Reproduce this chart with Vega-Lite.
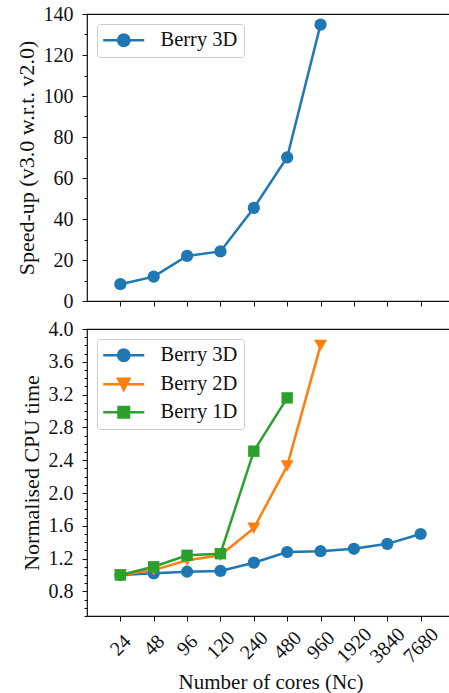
{
  "$schema": "https://vega.github.io/schema/vega-lite/v6.json",
  "padding": {"left": 14, "top": 3, "right": 0, "bottom": 0},
  "background": "white",
  "resolve": {"scale": {"fill": "independent", "stroke": "independent", "shape": "independent"}, "legend": {"fill": "independent", "stroke": "independent", "shape": "independent"}},
  "config": {
    "font": "Liberation Serif",
    "view": {"stroke": "#111111", "strokeWidth": 1.2},
    "axis": {
      "labelFont": "Liberation Serif", "labelFontSize": 20, "labelColor": "#111111",
      "titleFont": "Liberation Serif", "titleFontSize": 22, "titleFontWeight": "normal", "titleColor": "#111111",
      "domainColor": "#111111", "tickColor": "#111111", "tickWidth": 1, "grid": false, "labelPadding": 9
    },
    "legend": {
      "orient": "top-left", "offset": 10, "padding": 6, "title": null,
      "strokeColor": "#cccccc", "fillColor": "rgba(255,255,255,0.8)", "cornerRadius": 3,
      "labelFont": "Liberation Serif", "labelFontSize": 20.5, "labelColor": "#111111",
      "symbolSize": 196, "symbolStrokeWidth": 2.5, "symbolOpacity": 1, "labelOffset": 37, "rowPadding": 7
    },
    "concat": {"spacing": 6}
  },
  "datasets": {
    "speedup": [
      {"series": "Berry 3D", "cores": 24, "speedup": 8.2},
      {"series": "Berry 3D", "cores": 48, "speedup": 11.9},
      {"series": "Berry 3D", "cores": 96, "speedup": 22.0},
      {"series": "Berry 3D", "cores": 120, "speedup": 24.2},
      {"series": "Berry 3D", "cores": 240, "speedup": 45.4},
      {"series": "Berry 3D", "cores": 480, "speedup": 70.1},
      {"series": "Berry 3D", "cores": 960, "speedup": 134.8}
    ],
    "cpu": [
      {"series": "Berry 3D", "cores": 24, "cpu": 1.0},
      {"series": "Berry 3D", "cores": 48, "cpu": 1.02},
      {"series": "Berry 3D", "cores": 96, "cpu": 1.04},
      {"series": "Berry 3D", "cores": 120, "cpu": 1.05},
      {"series": "Berry 3D", "cores": 240, "cpu": 1.15},
      {"series": "Berry 3D", "cores": 480, "cpu": 1.28},
      {"series": "Berry 3D", "cores": 960, "cpu": 1.29},
      {"series": "Berry 3D", "cores": 1920, "cpu": 1.32},
      {"series": "Berry 3D", "cores": 3840, "cpu": 1.38},
      {"series": "Berry 3D", "cores": 7680, "cpu": 1.5},
      {"series": "Berry 2D", "cores": 24, "cpu": 1.0},
      {"series": "Berry 2D", "cores": 48, "cpu": 1.06},
      {"series": "Berry 2D", "cores": 96, "cpu": 1.18},
      {"series": "Berry 2D", "cores": 120, "cpu": 1.24},
      {"series": "Berry 2D", "cores": 240, "cpu": 1.57},
      {"series": "Berry 2D", "cores": 480, "cpu": 2.33},
      {"series": "Berry 2D", "cores": 960, "cpu": 3.8},
      {"series": "Berry 1D", "cores": 24, "cpu": 1.0},
      {"series": "Berry 1D", "cores": 48, "cpu": 1.1},
      {"series": "Berry 1D", "cores": 96, "cpu": 1.24},
      {"series": "Berry 1D", "cores": 120, "cpu": 1.26},
      {"series": "Berry 1D", "cores": 240, "cpu": 2.51},
      {"series": "Berry 1D", "cores": 480, "cpu": 3.16}
    ]
  },
  "vconcat": [
    {
      "width": 367, "height": 287,
      "data": {"name": "speedup"},
      "encoding": {
        "x": {"field": "cores", "type": "ordinal",
          "scale": {"type": "point", "domain": [24, 48, 96, 120, 240, 480, 960, 1920, 3840, 7680], "padding": 1},
          "axis": {"labels": false, "title": null, "domain": false, "tickSize": 5}},
        "y": {"field": "speedup", "type": "quantitative",
          "scale": {"domain": [0, 140], "nice": false, "zero": true},
          "axis": {"values": [0, 10, 20, 30, 40, 50, 60, 70, 80, 90, 100, 110, 120, 130, 140],
            "labelExpr": "datum.value % 20 === 0 ? datum.label : ''",
            "tickSize": {"condition": {"test": "datum.value % 20 === 0", "value": 5}, "value": 3},
            "domain": false, "title": "Speed-up (v3.0 w.r.t. v2.0)", "titlePadding": 5}}
      },
      "layer": [
        {"mark": {"type": "line", "strokeWidth": 2.5},
          "encoding": {"stroke": {"field": "series", "type": "nominal", "scale": {"domain": ["Berry 3D"], "range": ["#1f77b4"]}}}},
        {"mark": {"type": "point", "filled": true, "size": 150, "opacity": 1, "shape": "circle"},
          "encoding": {"fill": {"field": "series", "type": "nominal", "scale": {"domain": ["Berry 3D"], "range": ["#1f77b4"]}}}},
        {"transform": [{"filter": "datum.cores < 0"}],
          "mark": {"type": "point", "filled": true, "size": 150},
          "encoding": {
            "shape": {"field": "series", "type": "nominal", "scale": {"domain": ["Berry 3D"],
              "range": ["M-1.43,0H4.43M2.31,0A0.81,0.81 0 1,1 0.69,0A0.81,0.81 0 1,1 2.31,0Z"]}},
            "fill": {"field": "series", "type": "nominal"},
            "stroke": {"field": "series", "type": "nominal"}
          }}
      ]
    },
    {
      "width": 367, "height": 287,
      "data": {"name": "cpu"},
      "encoding": {
        "x": {"field": "cores", "type": "ordinal",
          "scale": {"type": "point", "domain": [24, 48, 96, 120, 240, 480, 960, 1920, 3840, 7680], "padding": 1},
          "axis": {"labelAngle": -45, "labelAlign": "center", "labelBaseline": "middle", "labelPadding": 24,
            "labelOverlap": false, "labelFlush": false, "domain": false, "tickSize": 5,
            "title": "Number of cores (Nc)", "titleFontSize": 21, "titlePadding": 5}},
        "y": {"field": "cpu", "type": "quantitative",
          "scale": {"domain": [0.5, 4.0], "nice": false, "zero": false},
          "axis": {"values": [0.5, 0.6, 0.7, 0.8, 0.9, 1.0, 1.1, 1.2, 1.3, 1.4, 1.5, 1.6, 1.7, 1.8, 1.9, 2.0, 2.1, 2.2, 2.3, 2.4, 2.5, 2.6, 2.7, 2.8, 2.9, 3.0, 3.1, 3.2, 3.3, 3.4, 3.5, 3.6, 3.7, 3.8, 3.9, 4.0],
            "format": ".1f",
            "labelExpr": "abs(round(datum.value * 10) % 4) === 0 ? datum.label : ''",
            "tickSize": {"condition": {"test": "abs(round(datum.value * 10) % 4) === 0", "value": 5}, "value": 3},
            "domain": false, "title": "Normalised CPU time", "titlePadding": 5}}
      },
      "layer": [
        {"mark": {"type": "line", "strokeWidth": 2.5},
          "encoding": {"stroke": {"field": "series", "type": "nominal",
            "scale": {"domain": ["Berry 3D", "Berry 2D", "Berry 1D"], "range": ["#1f77b4", "#ff7f0e", "#2ca02c"]}}}},
        {"transform": [{"filter": "datum.series === 'Berry 3D'"}],
          "mark": {"type": "point", "filled": true, "size": 150, "opacity": 1, "shape": "circle"},
          "encoding": {"fill": {"field": "series", "type": "nominal",
            "scale": {"domain": ["Berry 3D", "Berry 2D", "Berry 1D"], "range": ["#1f77b4", "#ff7f0e", "#2ca02c"]}}}},
        {"transform": [{"filter": "datum.series === 'Berry 2D'"}],
          "mark": {"type": "point", "filled": true, "size": 170, "opacity": 1, "shape": "triangle-down"},
          "encoding": {"fill": {"field": "series", "type": "nominal"}}},
        {"transform": [{"filter": "datum.series === 'Berry 1D'"}],
          "mark": {"type": "point", "filled": true, "size": 130, "opacity": 1, "shape": "square"},
          "encoding": {"fill": {"field": "series", "type": "nominal"}}},
        {"transform": [{"filter": "datum.cores < 0"}],
          "mark": {"type": "point", "filled": true, "size": 150},
          "encoding": {
            "shape": {"field": "series", "type": "nominal", "scale": {"domain": ["Berry 3D", "Berry 2D", "Berry 1D"],
              "range": ["M-1.43,0H4.43M2.31,0A0.81,0.81 0 1,1 0.69,0A0.81,0.81 0 1,1 2.31,0Z",
                        "M-1.43,0H4.43M0.69,-0.78H2.31L1.5,0.78Z",
                        "M-1.43,0H4.43M0.75,-0.75H2.25V0.75H0.75Z"]}},
            "fill": {"field": "series", "type": "nominal"},
            "stroke": {"field": "series", "type": "nominal"}
          }}
      ]
    }
  ]
}
